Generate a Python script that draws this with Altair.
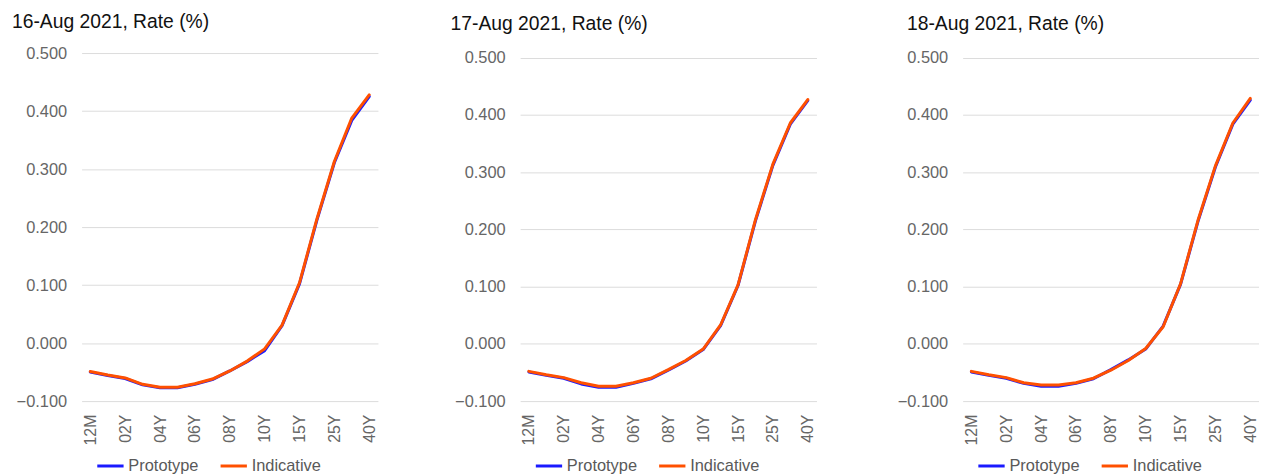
import altair as alt
import pandas as pd

tenors = ["12M", "18M", "02Y", "03Y", "04Y", "05Y", "06Y", "07Y", "08Y",
          "09Y", "10Y", "12Y", "15Y", "20Y", "25Y", "30Y", "40Y"]
tick_labels = ["12M", "02Y", "04Y", "06Y", "08Y", "10Y", "15Y", "25Y", "40Y"]
y_ticks = [-0.1, 0.0, 0.1, 0.2, 0.3, 0.4, 0.5]
series_names = ["Prototype", "Indicative"]
series_colors = ["#1a1aff", "#ff5000"]
titles = ["16-Aug 2021, Rate (%)", "17-Aug 2021, Rate (%)", "18-Aug 2021, Rate (%)"]

proto_16 = [-0.050, -0.056, -0.061, -0.072, -0.077, -0.077, -0.071, -0.063, -0.048,
            -0.032, -0.013, 0.030, 0.102, 0.212, 0.311, 0.384, 0.425]
ind_16 = [-0.049, -0.055, -0.060, -0.071, -0.076, -0.076, -0.070, -0.062, -0.048,
          -0.031, -0.010, 0.031, 0.104, 0.214, 0.313, 0.388, 0.428]
proto_17 = [-0.049, -0.055, -0.060, -0.070, -0.076, -0.076, -0.069, -0.061, -0.046,
            -0.030, -0.010, 0.032, 0.102, 0.215, 0.312, 0.384, 0.425]
ind_17 = [-0.048, -0.054, -0.059, -0.068, -0.074, -0.074, -0.068, -0.060, -0.045,
          -0.029, -0.009, 0.033, 0.103, 0.217, 0.314, 0.386, 0.427]
proto_18 = [-0.049, -0.055, -0.060, -0.069, -0.074, -0.074, -0.069, -0.061, -0.045,
            -0.028, -0.009, 0.031, 0.104, 0.214, 0.309, 0.384, 0.426]
ind_18 = [-0.048, -0.054, -0.059, -0.068, -0.072, -0.072, -0.068, -0.060, -0.046,
          -0.029, -0.008, 0.030, 0.105, 0.216, 0.311, 0.386, 0.429]

FONT = "Liberation Sans"


def panel(title, proto, ind, y_top, title_offset, title_dx):
    rows = []
    for t, v in zip(tenors, proto):
        rows.append({"tenor": t, "rate": v, "series": series_names[0]})
    for t, v in zip(tenors, ind):
        rows.append({"tenor": t, "rate": v, "series": series_names[1]})
    df = pd.DataFrame(rows)

    base = alt.Chart(df).mark_line(strokeWidth=3, strokeJoin="round", strokeCap="round").encode(
        x=alt.X("tenor:N", sort=tenors,
                scale=alt.Scale(type="point", padding=0.5),
                axis=alt.Axis(title=None, values=tick_labels, labelAngle=270,
                              domain=False, ticks=False, tickSize=0, grid=False,
                              labelPadding=13, labelFontSize=16, labelColor="#666666",
                              labelFont=FONT)),
        y=alt.Y("rate:Q",
                scale=alt.Scale(domain=[-0.1, y_top], nice=False, zero=False),
                axis=alt.Axis(title=None, values=y_ticks, format=".3f",
                              domain=False, ticks=False, tickSize=0,
                              labelPadding=15, labelFontSize=16.5, labelColor="#666666",
                              labelFont=FONT, gridColor="#dcdcdc", gridWidth=1)),
        color=alt.Color("series:N",
                        scale=alt.Scale(domain=series_names, range=series_colors),
                        legend=alt.Legend(title=None, orient="none", direction="horizontal",
                                          legendX=14, legendY=400,
                                          symbolType="stroke", symbolStrokeWidth=3,
                                          symbolSize=700, labelFontSize=16.5,
                                          labelColor="#595959", labelFont=FONT,
                                          labelOffset=3, columnPadding=15,
                                          symbolOpacity=1)),
    )
    layered = alt.layer(
        base.transform_filter(alt.datum.series == series_names[0]),
        base.transform_filter(alt.datum.series == series_names[1]),
    ).properties(
        width=298, height=350,
        title=alt.TitleParams(title, anchor="start", frame="group", dx=title_dx,
                              offset=title_offset, fontSize=19.4, font=FONT,
                              fontWeight="normal", color="#111111"),
    )
    return layered


p1 = panel(titles[0], proto_16, ind_16, 0.5, 13, -70)
p2 = panel(titles[1], proto_17, ind_17, 0.5082, 16, -70)
p3 = panel(titles[2], proto_18, ind_18, 0.5082, 16, -56)

left = alt.hconcat(p1, p2, spacing=73).resolve_scale(color="independent").resolve_legend(color="independent")
chart = alt.hconcat(left, p3, spacing=81).resolve_scale(color="independent").resolve_legend(color="independent")
chart = chart.properties(padding={"left": 4, "top": 2, "right": 0, "bottom": 0}).configure_view(stroke=None)

chart.save("out.html", embed_options={"renderer": "svg", "actions": False})
